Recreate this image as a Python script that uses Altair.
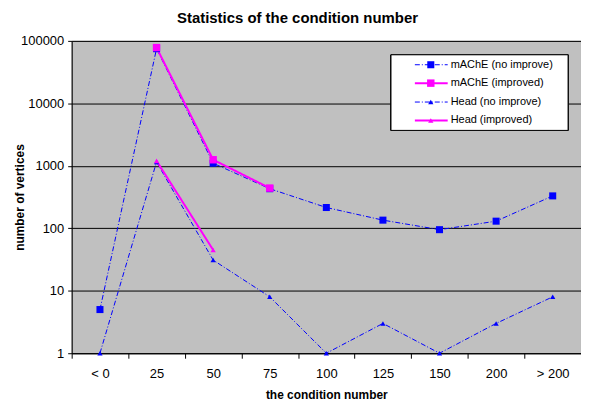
import altair as alt
import pandas as pd

categories = ["< 0", "25", "50", "75", "100", "125", "150", "200", "> 200"]
mache_no_improve = [5, 75000, 1100, 430, 215, 135, 95, 130, 330]
mache_improved = [None, 78000, 1250, 440, None, None, None, None, None]
head_no_improve = [1, 1150, 31, 8, 1, 3, 1, 3, 8]
head_improved = [None, 1200, 45, None, None, None, None, None, None]
series_names = ["mAChE (no improve)", "mAChE (improved)", "Head (no improve)", "Head (improved)"]
y_ticks = [1, 10, 100, 1000, 10000, 100000]

series_values = [mache_no_improve, mache_improved, head_no_improve, head_improved]
styles = [
    dict(color="#0000FF", dash=[5, 2, 1, 2], width=1, shape="square", size=50),
    dict(color="#FF00FF", dash=[1, 0], width=2, shape="square", size=56),
    dict(color="#0000FF", dash=[5, 2, 1, 2], width=1, shape="triangle-up", size=28),
    dict(color="#FF00FF", dash=[1, 0], width=2, shape="triangle-up", size=28),
]

rows = []
for name, vals in zip(series_names, series_values):
    for c, v in zip(categories, vals):
        if v is not None:
            rows.append({"series": name, "cat": c, "value": v})
df = pd.DataFrame(rows)

W, H = 512, 314
FONT = "Liberation Sans"

xenc = alt.X(
    "cat:N",
    sort=categories,
    scale=alt.Scale(domain=categories, paddingInner=0, paddingOuter=0),
    axis=alt.Axis(
        title="the condition number",
        labelAngle=0,
        tickBand="extent",
        tickSize=5,
        tickColor="black",
        domainColor="black",
        labelPadding=9,
        labelFontSize=13,
        labelColor="#000000",
        titleFontSize=12,
        titleFontWeight="bold",
        titleY=46,
        titleBaseline="alphabetic",
        grid=False,
    ),
)
yenc = alt.Y(
    "value:Q",
    scale=alt.Scale(type="log", domain=[1, 100000]),
    axis=alt.Axis(
        title="number of vertices",
        values=y_ticks,
        format="d",
        tickSize=4,
        tickColor="black",
        domainColor="black",
        labelPadding=4,
        labelFontSize=13,
        labelColor="#000000",
        grid=True,
        gridColor="black",
        gridWidth=1,
        titleFontSize=12,
        titleFontWeight="bold",
        titleX=-52,
        titleY=H / 2,
        titleAngle=-90,
        titleBaseline="middle",
        titleAlign="center",
    ),
)

layers = []
order = [0, 2, 1, 3]
for i in order:
    name = series_names[i]
    st = styles[i]
    sub = alt.Chart(df).transform_filter(alt.datum.series == name)
    layers.append(
        sub.mark_line(color=st["color"], strokeDash=st["dash"], strokeWidth=st["width"]).encode(x=xenc, y=yenc)
    )
for i in order:
    name = series_names[i]
    st = styles[i]
    sub = alt.Chart(df).transform_filter(alt.datum.series == name)
    layers.append(
        sub.mark_point(shape=st["shape"], size=st["size"], filled=True, color=st["color"], opacity=1).encode(x=xenc, y=yenc)
    )

# legend box (drawn manually to mimic line+marker symbols)
leg_df = pd.DataFrame({"series": series_names})
box = alt.Chart(leg_df).mark_rect(fill="white", stroke="black", strokeWidth=1).encode(
    x=alt.value(321), x2=alt.value(499), y=alt.value(14), y2=alt.value(90)
)
layers.append(box)
leg_y = [24, 42.5, 61.5, 80]
for i, name in enumerate(series_names):
    st = styles[i]
    sub = alt.Chart(leg_df).transform_filter(alt.datum.series == name)
    layers.append(
        sub.mark_rule(color=st["color"], strokeDash=st["dash"], strokeWidth=st["width"]).encode(
            x=alt.value(345), x2=alt.value(378), y=alt.value(leg_y[i])
        )
    )
    layers.append(
        sub.mark_point(shape=st["shape"], size=st["size"], filled=True, color=st["color"], opacity=1).encode(
            x=alt.value(361), y=alt.value(leg_y[i])
        )
    )
    layers.append(
        sub.mark_text(align="left", baseline="middle", fontSize=11, font=FONT, color="black").encode(
            x=alt.value(381), y=alt.value(leg_y[i]), text="series:N"
        )
    )

chart = (
    alt.layer(*layers)
    .properties(
        width=W,
        height=H,
        autosize=alt.AutoSizeParams(type="none"),
        padding={"left": 64, "top": 32, "right": 0, "bottom": 50},
        title=alt.TitleParams(
            "Statistics of the condition number",
            fontSize=15,
            fontWeight="bold",
            font=FONT,
            anchor="middle",
            dx=-29,
            offset=9,
            color="black",
        ),
    )
    .configure(font=FONT, background="white")
    .configure_view(fill="#C0C0C0", stroke="#808080", strokeWidth=1)
    .configure_axis(labelFont=FONT, titleFont=FONT, titleColor="black")
)

chart.save("out.html", embed_options={"renderer": "svg", "actions": False})
